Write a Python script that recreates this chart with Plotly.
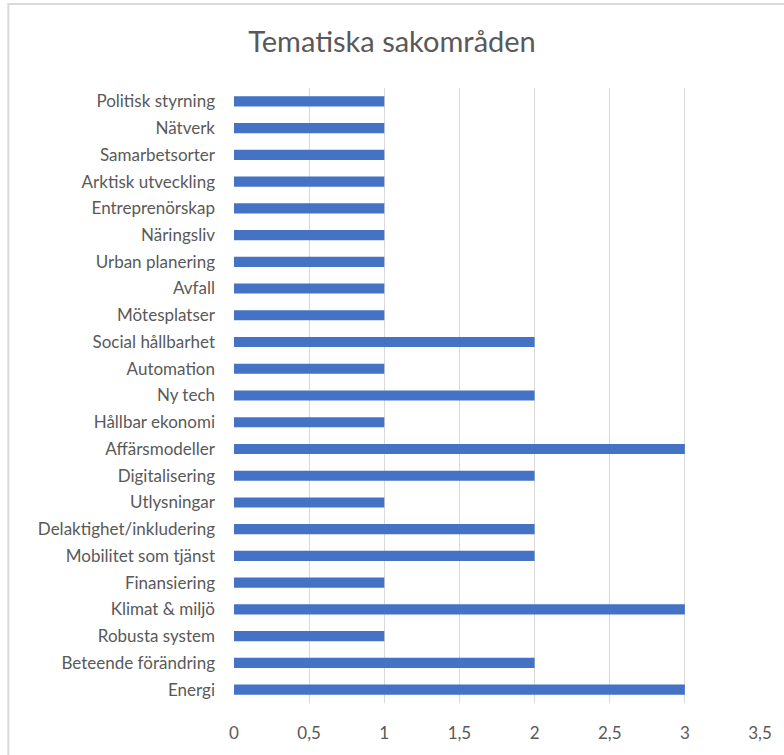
import plotly.graph_objects as go

# categories listed bottom to top, as plotly draws them
categories = [
    "Energi", "Beteende förändring", "Robusta system", "Klimat & miljö",
    "Finansiering", "Mobilitet som tjänst", "Delaktighet/inkludering",
    "Utlysningar", "Digitalisering", "Affärsmodeller", "Hållbar ekonomi",
    "Ny tech", "Automation", "Social hållbarhet", "Mötesplatser", "Avfall",
    "Urban planering", "Näringsliv", "Entreprenörskap", "Arktisk utveckling",
    "Samarbetsorter", "Nätverk", "Politisk styrning",
]
counts = [3, 2, 1, 3, 1, 2, 2, 1, 2, 3, 1, 2, 1, 2, 1, 1, 1, 1, 1, 1, 1, 1, 1]

tick_vals = [0, 0.5, 1, 1.5, 2, 2.5, 3, 3.5]
tick_text = ["0", "0,5", "1", "1,5", "2", "2,5", "3", "3,5"]

fig = go.Figure(go.Bar(
    x=counts, y=categories, orientation="h",
    marker=dict(color="#4472C4", line=dict(width=0)),
    width=0.38,
))

fig.update_layout(
    width=784, height=755,
    margin=dict(l=234, r=21, t=88, b=52),
    paper_bgcolor="white", plot_bgcolor="white",
    font=dict(family="Lato, Open Sans, sans-serif", color="#595959", size=17),
    title=dict(text="Tematiska sakområden", x=0.5, xanchor="center",
               y=0.945, yanchor="middle",
               font=dict(size=29, color="#595959")),
    showlegend=False,
    # light outer chart border (cropped on right and bottom in the reference)
    shapes=[dict(type="rect", xref="paper", yref="paper",
                 x0=-0.429, x1=1.2, y0=-0.2, y1=1.1366,
                 line=dict(color="#d9d9d9", width=2), layer="below")],
)
fig.update_xaxes(range=[0, 3.5], tickvals=tick_vals, ticktext=tick_text,
                 showgrid=True, gridcolor="#d9d9d9", gridwidth=1,
                 zeroline=False, showline=False, ticks="",
                 ticklabelstandoff=18, tickfont=dict(size=17))
fig.update_yaxes(showgrid=False, zeroline=False, showline=False,
                 ticks="", ticklabelstandoff=18, tickfont=dict(size=17))

# drop the default page margin so the figure sits at the window's corner
fig.write_html("out.html", config={"displayModeBar": False},
               post_script="document.body.style.margin='0';")
